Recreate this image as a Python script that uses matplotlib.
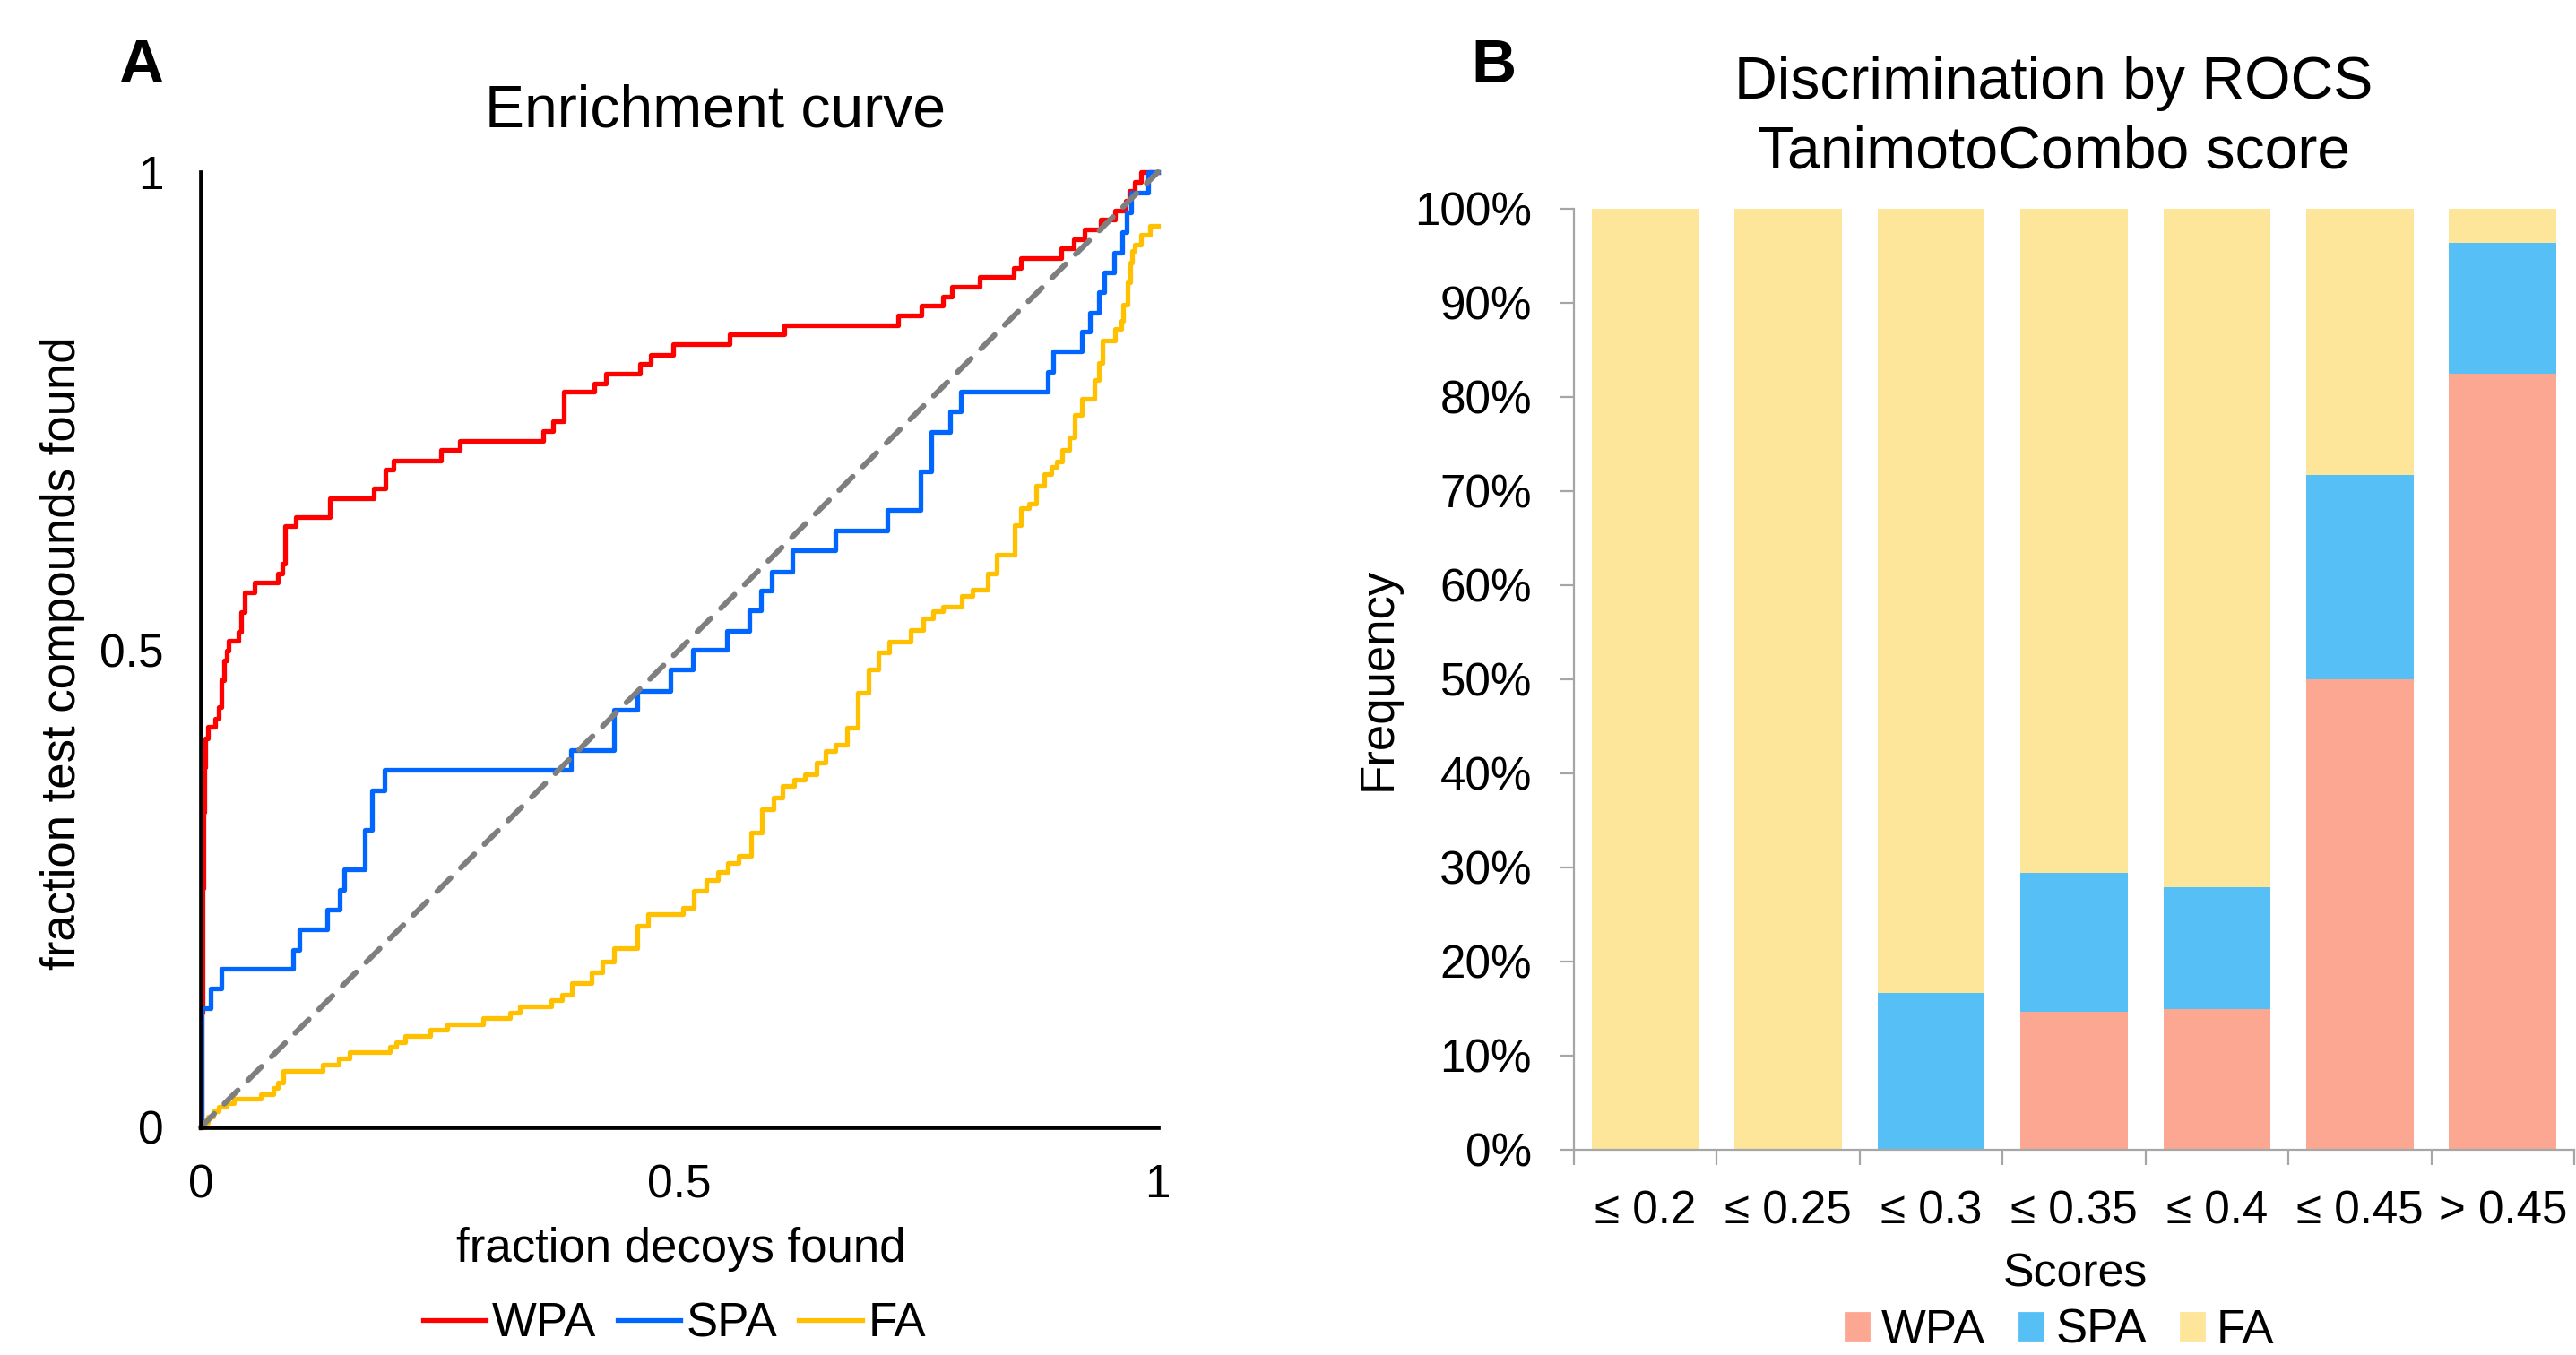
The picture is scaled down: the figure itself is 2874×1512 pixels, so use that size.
"""Two-panel figure: enrichment curves (A) and stacked score frequencies (B)."""

import matplotlib
matplotlib.use("Agg")
import matplotlib.pyplot as plt
from matplotlib.lines import Line2D
from matplotlib.patches import Patch
import numpy as np

plt.rcParams["font.family"] = ["Liberation Sans", "DejaVu Sans"]

# --- Panel A: enrichment curves (x = fraction decoys, y = fraction test compounds) ---
wpa_x = [0, 0.001, 0.002, 0.003, 0.004, 0.005, 0.008, 0.015, 0.019, 0.022, 0.024, 0.027,
         0.029, 0.039, 0.042, 0.046, 0.056, 0.081, 0.085, 0.088, 0.099, 0.135, 0.181, 0.193,
         0.201, 0.251, 0.271, 0.358, 0.368, 0.379, 0.411, 0.423, 0.459, 0.470, 0.494, 0.553,
         0.610, 0.729, 0.753, 0.775, 0.785, 0.814, 0.849, 0.857, 0.899, 0.912, 0.923, 0.940,
         0.955, 0.966, 0.970, 0.976, 0.982, 1.0]
wpa_y = [0, 0.12, 0.25, 0.33, 0.377, 0.407, 0.419, 0.428, 0.44, 0.468, 0.489, 0.499,
         0.509, 0.519, 0.539, 0.56, 0.57, 0.58, 0.59, 0.629, 0.639, 0.659, 0.669, 0.689,
         0.698, 0.709, 0.719, 0.729, 0.739, 0.77, 0.779, 0.789, 0.799, 0.809, 0.82, 0.83,
         0.84, 0.85, 0.86, 0.87, 0.88, 0.89, 0.90, 0.91, 0.92, 0.93, 0.94, 0.95,
         0.96, 0.97, 0.98, 0.99, 1.0, 1.0]

spa_x = [0, 0.001, 0.0104, 0.0217, 0.0968, 0.103, 0.132, 0.145, 0.150, 0.171, 0.179, 0.192,
         0.387, 0.432, 0.456, 0.491, 0.514, 0.550, 0.573, 0.585, 0.597, 0.618, 0.663, 0.717,
         0.752, 0.763, 0.783, 0.794, 0.885, 0.891, 0.921, 0.929, 0.938, 0.944, 0.954, 0.963,
         0.967, 0.972, 0.990, 1.0]
spa_y = [0, 0.125, 0.145, 0.166, 0.186, 0.207, 0.228, 0.249, 0.270, 0.311, 0.353, 0.374,
         0.395, 0.437, 0.457, 0.479, 0.500, 0.520, 0.541, 0.562, 0.582, 0.604, 0.625, 0.646,
         0.687, 0.728, 0.750, 0.770, 0.791, 0.812, 0.833, 0.853, 0.874, 0.895, 0.916, 0.937,
         0.958, 0.978, 1.0, 1.0]

fa_x = [0, 0.004, 0.008, 0.013, 0.019, 0.027, 0.035, 0.0626, 0.076, 0.081, 0.086, 0.127,
        0.144, 0.156, 0.198, 0.204, 0.214, 0.240, 0.258, 0.295, 0.323, 0.333, 0.366, 0.377,
        0.388, 0.408, 0.420, 0.432, 0.456, 0.467, 0.504, 0.515, 0.528, 0.540, 0.551, 0.562,
        0.575, 0.586, 0.598, 0.608, 0.620, 0.631, 0.643, 0.653, 0.663, 0.675, 0.686, 0.698,
        0.708, 0.719, 0.742, 0.755, 0.765, 0.775, 0.795, 0.806, 0.822, 0.832, 0.850, 0.857,
        0.865, 0.873, 0.881, 0.889, 0.894, 0.900, 0.907, 0.913, 0.921, 0.934, 0.938, 0.942,
        0.955, 0.962, 0.964, 0.968, 0.971, 0.973, 0.976, 0.982, 0.992, 1.0]
fa_y = [0, 0.005, 0.011, 0.017, 0.022, 0.025, 0.030, 0.035, 0.041, 0.047, 0.059, 0.066,
        0.072, 0.079, 0.084, 0.089, 0.096, 0.102, 0.108, 0.114, 0.120, 0.127, 0.133, 0.139,
        0.151, 0.162, 0.174, 0.188, 0.211, 0.223, 0.230, 0.248, 0.259, 0.267, 0.277, 0.284,
        0.309, 0.333, 0.345, 0.357, 0.364, 0.370, 0.382, 0.394, 0.401, 0.418, 0.455, 0.479,
        0.497, 0.508, 0.521, 0.533, 0.540, 0.545, 0.556, 0.563, 0.580, 0.599, 0.630, 0.648,
        0.653, 0.672, 0.684, 0.691, 0.697, 0.709, 0.722, 0.746, 0.763, 0.782, 0.800, 0.824,
        0.836, 0.844, 0.861, 0.885, 0.905, 0.917, 0.924, 0.934, 0.944, 0.944]

random_x = [0, 1]
random_y = [0, 1]
a_ticks = [0, 0.5, 1]
a_ticklabels = ["0", "0.5", "1"]

# --- Panel B: frequency (%) per score bin ---
score_bins = ["≤ 0.2", "≤ 0.25", "≤ 0.3", "≤ 0.35", "≤ 0.4", "≤ 0.45", "> 0.45"]
wpa_pct = [0, 0, 0, 14.7, 14.9, 50.0, 82.5]
spa_pct = [0, 0, 16.7, 14.7, 13.0, 21.7, 13.9]
fa_pct = [100, 100, 83.3, 70.6, 72.1, 28.3, 3.6]
pct_ticks = list(range(0, 101, 10))
pct_labels = [f"{t}%" for t in pct_ticks]

RED, BLUE, GOLD = "#FF0000", "#0066FF", "#FFC000"
C_WPA, C_SPA, C_FA = "#FCA792", "#56C0F6", "#FDE599"
AXGRAY = "#A6A6A6"


def main():
    fig = plt.figure(figsize=(14.37, 7.56), dpi=200)

    # ---------------- A ----------------
    ax = fig.add_axes([0.0779, 0.1680, 0.3716, 0.7050])
    lw = 1.9
    ax.plot(wpa_x, wpa_y, drawstyle="steps-post", color=RED, lw=lw, clip_on=False)
    ax.plot(spa_x, spa_y, drawstyle="steps-post", color=BLUE, lw=lw, clip_on=False)
    ax.plot(fa_x, fa_y, drawstyle="steps-post", color=GOLD, lw=lw, clip_on=False)
    ax.plot(random_x, random_y, color="#7F7F7F", lw=2.2, dashes=(3.5, 2.6),
            dash_capstyle="round", clip_on=False)
    ax.set_xlim(0, 1); ax.set_ylim(0, 1)
    for s in ("top", "right"):
        ax.spines[s].set_visible(False)
    for s in ("left", "bottom"):
        ax.spines[s].set_color("black")
        ax.spines[s].set_linewidth(1.7)
    ax.set_xticks(a_ticks, a_ticklabels)
    ax.set_yticks(a_ticks, a_ticklabels)
    ax.tick_params(axis="x", length=0, pad=14.5, labelsize=18.5)
    ax.tick_params(axis="y", length=0, pad=15, labelsize=18.5)

    fig.text(0.0459, 0.9392, "A", fontsize=25, fontweight="bold", ha="left", va="baseline")
    fig.text(0.2777, 0.9063, "Enrichment curve", fontsize=23.8, ha="center", va="baseline")
    fig.text(0.2644, 0.0688, "fraction decoys found", fontsize=19, ha="center", va="baseline")
    fig.text(0.0244, 0.5179, "fraction test compounds found", fontsize=19, rotation=90,
             ha="center", va="center")

    handles = [Line2D([], [], color=c, lw=lw) for c in (RED, BLUE, GOLD)]
    fig.legend(handles, ["WPA", "SPA", "FA"], loc="center", bbox_to_anchor=(0.2617, 0.0231),
               ncol=3, frameon=False, fontsize=19, handlelength=1.34, handletextpad=0.12,
               columnspacing=0.45, borderpad=0, borderaxespad=0)

    # ---------------- B ----------------
    bx = fig.add_axes([0.6110, 0.1515, 0.3883, 0.6944])
    pos = np.arange(len(score_bins))
    w = 0.75
    wpa = np.array(wpa_pct); spa = np.array(spa_pct); fa = np.array(fa_pct)
    bx.bar(pos, wpa, w, color=C_WPA, label="WPA")
    bx.bar(pos, spa, w, bottom=wpa, color=C_SPA, label="SPA")
    bx.bar(pos, fa, w, bottom=wpa + spa, color=C_FA, label="FA")
    bx.set_xlim(-0.5, len(score_bins) - 0.5)
    bx.set_ylim(0, 100)
    for s in ("top", "right"):
        bx.spines[s].set_visible(False)
    for s in ("left", "bottom"):
        bx.spines[s].set_color(AXGRAY)
        bx.spines[s].set_linewidth(0.8)
    bx.set_yticks(pct_ticks, pct_labels)
    bx.set_xticks(pos, score_bins)
    bx.set_xticks(np.arange(-0.5, len(score_bins)), minor=True)
    bx.tick_params(axis="y", length=5.4, width=0.8, color=AXGRAY, pad=11.5, labelsize=18.4)
    bx.tick_params(axis="x", which="major", length=0, pad=16, labelsize=18.4)
    bx.tick_params(axis="x", which="minor", length=6, width=0.8, color=AXGRAY)

    fig.text(0.5710, 0.9392, "B", fontsize=25, fontweight="bold", ha="left", va="baseline")
    fig.text(0.7972, 0.9272, "Discrimination by ROCS", fontsize=23.8, ha="center", va="baseline")
    fig.text(0.7972, 0.8763, "TanimotoCombo score", fontsize=23.8, ha="center", va="baseline")
    fig.text(0.8055, 0.0509, "Scores", fontsize=18.7, ha="center", va="baseline")
    fig.text(0.5351, 0.4993, "Frequency", fontsize=19, rotation=90, ha="center", va="center")

    patches = [Patch(color=c) for c in (C_WPA, C_SPA, C_FA)]
    fig.legend(patches, ["WPA", "SPA", "FA"], loc="center", bbox_to_anchor=(0.7996, 0.0179),
               ncol=3, frameon=False, fontsize=19, handlelength=0.5, handleheight=0.5,
               handletextpad=0.26, columnspacing=0.72, borderpad=0, borderaxespad=0)

    fig.savefig("out.png", dpi=200)
    plt.close(fig)


if __name__ == "__main__":
    main()
